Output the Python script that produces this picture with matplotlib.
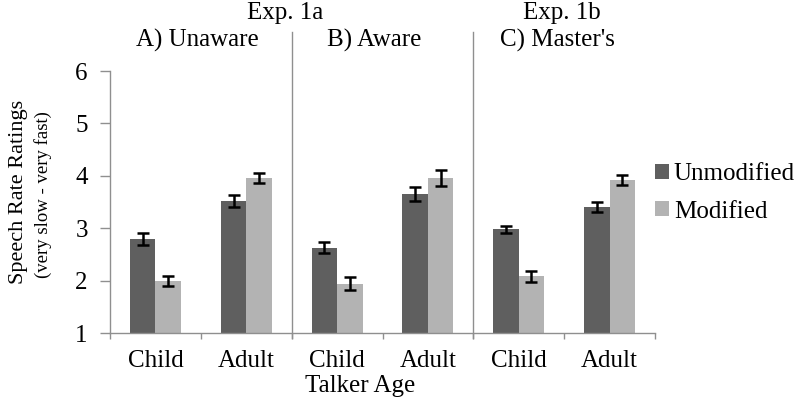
import matplotlib
matplotlib.use("Agg")
import matplotlib.pyplot as plt
import numpy as np

plt.rcParams['font.family'] = ['Liberation Serif', 'DejaVu Serif']

categories = ["Child", "Adult", "Child", "Adult", "Child", "Adult"]
unmodified = [2.79, 3.52, 2.63, 3.65, 2.98, 3.40]
unmodified_err = [0.11, 0.12, 0.10, 0.13, 0.07, 0.10]
modified = [1.99, 3.96, 1.94, 3.96, 2.08, 3.92]
modified_err = [0.10, 0.10, 0.12, 0.15, 0.11, 0.09]
series_names = ["Unmodified", "Modified"]
panel_titles = ["A) Unaware", "B) Aware", "C) Master's"]
exp_titles = ["Exp. 1a", "Exp. 1b"]
yticks = [1, 2, 3, 4, 5, 6]

dark = '#5f5f5f'
light = '#b3b3b3'
grey = '#8f8f8f'

fig = plt.figure(figsize=(8, 4.01), dpi=100)
ax = fig.add_axes([110/800, 1-333/401, (655-110)/800, (333-71)/401])

x = np.arange(len(categories))
w = 0.28
ekw = dict(elinewidth=1.8, capthick=1.8, ecolor='black')
b1 = ax.bar(x - w/2, unmodified, w, bottom=0, color=dark, yerr=unmodified_err,
            capsize=4, error_kw=ekw, label=series_names[0])
b2 = ax.bar(x + w/2, modified, w, bottom=0, color=light, yerr=modified_err,
            capsize=4, error_kw=ekw, label=series_names[1])

ax.set_ylim(1, 6)
ax.set_xlim(-0.5, len(categories) - 0.5)
ax.set_yticks(yticks)
ax.set_xticks(x)
ax.set_xticklabels(categories)
ax.set_xticks(np.arange(-0.5, len(categories), 1), minor=True)

for s in ['top', 'right']:
    ax.spines[s].set_visible(False)
for s in ['left', 'bottom']:
    ax.spines[s].set_color(grey)
    ax.spines[s].set_linewidth(1.0)

ax.tick_params(axis='y', which='major', direction='out', length=7, width=1,
               color=grey, labelsize=18, pad=9)
ax.tick_params(axis='x', which='major', length=0, labelsize=18, pad=12)
ax.tick_params(axis='x', which='minor', direction='out', length=4, width=1, color=grey)

# separators
for sep in [1.5, 3.5]:
    ax.axvline(sep, ymin=-0.02, ymax=(333-32)/262, color=grey, lw=1.0, clip_on=False)

# titles
fig.text(285/800, 1-13/401, exp_titles[0], ha='center', va='center', fontsize=18)
fig.text(562/800, 1-13/401, exp_titles[1], ha='center', va='center', fontsize=18)
fig.text(197/800, 1-40/401, panel_titles[0], ha='center', va='center', fontsize=18)
fig.text(374/800, 1-40/401, panel_titles[1], ha='center', va='center', fontsize=18)
fig.text(557/800, 1-40/401, panel_titles[2], ha='center', va='center', fontsize=18)

# axis labels
fig.text(19/800, 1-192/401, "Speech Rate Ratings", rotation=90, ha='center', va='center', fontsize=16)
fig.text(43/800, 1-195/401, "(very slow - very fast)", rotation=90, ha='center', va='center', fontsize=13.5)
fig.text(360/800, 1-386/401, "Talker Age", ha='center', va='center', fontsize=18)

leg = fig.legend(handles=[b1, b2], labels=series_names, loc='center left',
                 bbox_to_anchor=(655/800, 1-193/401), frameon=False, fontsize=18,
                 handlelength=0.55, handleheight=0.55, handletextpad=0.2,
                 labelspacing=0.6, borderpad=0, borderaxespad=0)

fig.savefig("out.png", dpi=100)
